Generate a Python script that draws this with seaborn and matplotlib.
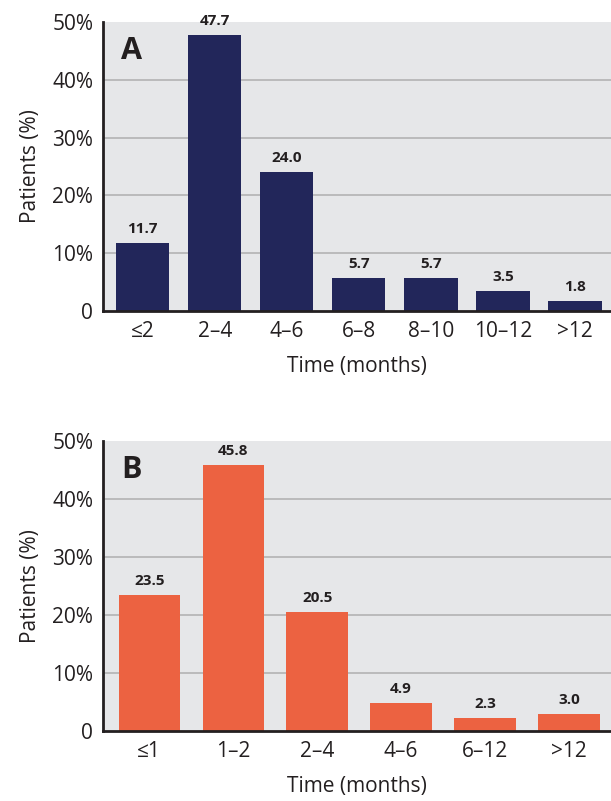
import matplotlib
matplotlib.use("Agg")
import matplotlib.pyplot as plt
import seaborn as sns
import pandas as pd

# panel A: time to first response
cats_a = ["≤2", "2–4", "4–6", "6–8", "8–10", "10–12", ">12"]
vals_a = [11.7, 47.7, 24.0, 5.7, 5.7, 3.5, 1.8]

# panel B: time to best response
cats_b = ["≤1", "1–2", "2–4", "4–6", "6–12", ">12"]
vals_b = [23.5, 45.8, 20.5, 4.9, 2.3, 3.0]

yticks = [0, 10, 20, 30, 40, 50]
ytick_labels = ["0", "10%", "20%", "30%", "40%", "50%"]

sns.set_style("white")
plt.rcParams["font.family"] = ["Open Sans", "DejaVu Sans"]

fig = plt.figure(figsize=(6.11, 8.01), dpi=100)
ax_a = fig.add_axes([0.1686, 0.6117, 0.8314, 0.3608])
ax_b = fig.add_axes([0.1686, 0.0874, 0.8314, 0.3620])

ink = "#231f20"


def draw_panel(ax, cats, vals, color, letter, width):
    df = pd.DataFrame({"time": cats, "pct": vals})
    sns.barplot(data=df, x="time", y="pct", color=color, saturation=1,
                width=width, linewidth=0, ax=ax, zorder=3)
    ax.set_facecolor("#e6e7e9")
    ax.set_ylim(0, 50)
    ax.set_xlim(-0.55, len(cats) - 0.5)
    ax.set_yticks(yticks)
    ax.set_yticklabels(ytick_labels, fontsize=15, color=ink)
    ax.tick_params(axis="x", labelsize=15, colors=ink, length=0, pad=7)
    ax.tick_params(axis="y", length=0, pad=7)
    # gridlines only between 0 and the top
    for yv in yticks[1:-1]:
        ax.axhline(yv, color="#b3b3b3", linewidth=1.2, zorder=1)
    for side in ["top", "right"]:
        ax.spines[side].set_visible(False)
    for side in ["left", "bottom"]:
        ax.spines[side].set_color(ink)
        ax.spines[side].set_linewidth(2)
        ax.spines[side].set_zorder(4)
    ax.set_xlabel("Time (months)", fontsize=15, color=ink, labelpad=10)
    ax.set_ylabel("Patients (%)", fontsize=15, color=ink, labelpad=8)
    ax.bar_label(ax.containers[0], fmt="%.1f", padding=5, fontsize=11,
                 fontweight="bold", color=ink)
    ax.text(0.035, 0.90, letter, transform=ax.transAxes, fontsize=22,
            fontweight="bold", color=ink, va="center", ha="left")


draw_panel(ax_a, cats_a, vals_a, "#22265a", "A", 0.74)
draw_panel(ax_b, cats_b, vals_b, "#ec6241", "B", 0.73)

fig.savefig("out.png", dpi=100)
